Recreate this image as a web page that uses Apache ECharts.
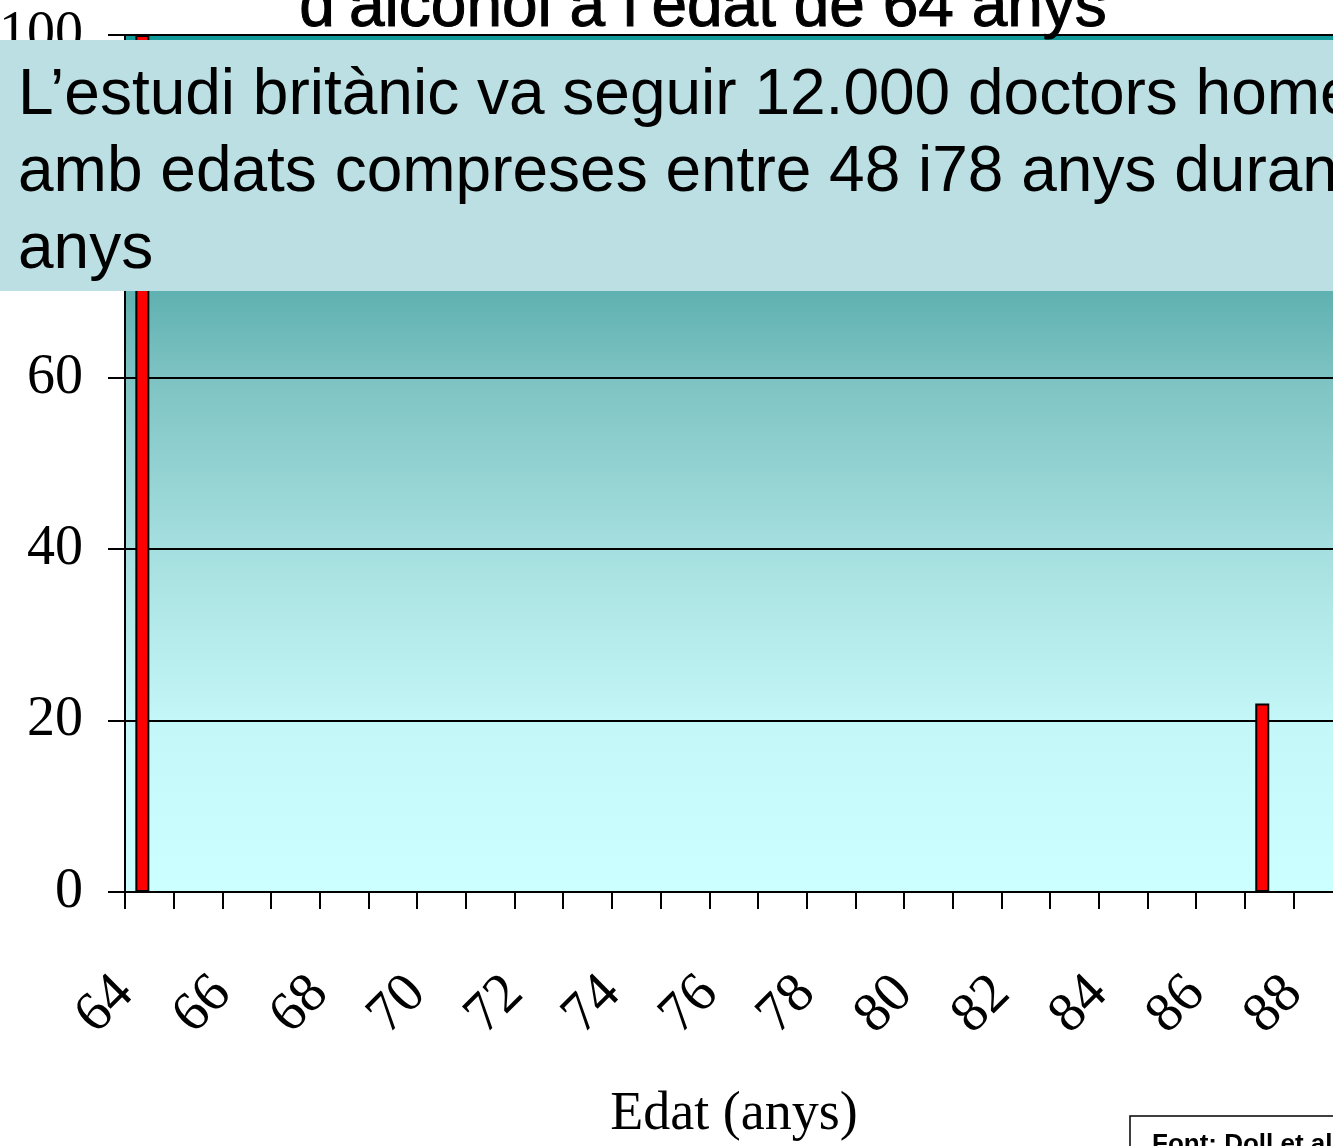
<!DOCTYPE html>
<html>
<head>
<meta charset="utf-8">
<script src="https://cdn.jsdelivr.net/npm/echarts@6/dist/echarts.min.js"></script>
<style>
  html, body { margin: 0; padding: 0; background: #fff; overflow: hidden; }
  #main { width: 1500px; height: 1146px; }
</style>
</head>
<body>
<div id="main"></div>
<script>
// edats (categories de l'eix x)
var ages = ["64","65","66","67","68","69","70","71","72","73","74","75","76",
            "77","78","79","80","81","82","83","84","85","86","87","88","89"];
// percentatge (barres vermelles)
var groupA = [100,"-","-","-","-","-","-","-","-","-","-","-","-",
              "-","-","-","-","-","-","-","-","-","-",22,"-","-"];
// segon grup del cluster (no visible)
var groupB = ["-","-","-","-","-","-","-","-","-","-","-","-","-",
              "-","-","-","-","-","-","-","-","-","-","-","-","-"];
var yTicks = { min: 0, max: 100, interval: 20 };

var titleText = "d\u2019alcohol a l\u2019edat de 64 anys";
var boxLines = [
  "L\u2019estudi brit\u00e0nic va seguir 12.000 doctors homes",
  "amb edats compreses entre 48 i78 anys durant 13",
  "anys"
];
var sourceText = "Font: Doll et al.";

var myChart = echarts.init(document.getElementById("main"));

var serif = "'Liberation Serif', 'Times New Roman', serif";
var sans = "'Liberation Sans', Arial, sans-serif";

var option = {
  animation: false,
  backgroundColor: "#fff",
  grid: {
    left: 125,
    top: 35,
    right: 109,
    bottom: 254,
    outerBoundsMode: "none",
    containLabel: false,
    show: true,
    borderColor: "#000",
    borderWidth: 2,
    backgroundColor: {
      type: "linear", x: 0, y: 0, x2: 0, y2: 1,
      colorStops: [
        { offset: 0, color: "#0f9a9a" },
        { offset: 0.3, color: "#60b1b1" },
        { offset: 0.4, color: "#7ec3c3" },
        { offset: 0.6, color: "#a6dfdf" },
        { offset: 0.8, color: "#c4f7f7" },
        { offset: 1, color: "#ccffff" }
      ]
    }
  },
  xAxis: [
    {
      type: "category",
      data: ages,
      boundaryGap: true,
      position: "bottom",
      axisLine: { lineStyle: { color: "#000", width: 2 } },
      axisTick: { show: true, inside: false, length: 17, lineStyle: { color: "#000", width: 2 } },
      axisLabel: { show: false },
      splitLine: { show: false }
    },
    {
      // només per a les etiquetes rotades a les marques
      type: "value",
      min: 64,
      max: 90,
      interval: 2,
      position: "bottom",
      axisLine: { show: false },
      axisTick: { show: false },
      splitLine: { show: false },
      axisLabel: {
        rotate: 45,
        margin: 93,
        fontFamily: serif,
        fontSize: 56,
        color: "#000"
      },
      name: "Edat (anys)",
      nameLocation: "middle",
      nameGap: 196,
      nameTextStyle: { fontFamily: serif, fontSize: 54, color: "#000", padding: [0, 48, 0, 0] }
    }
  ],
  yAxis: {
    type: "value",
    min: yTicks.min,
    max: yTicks.max,
    interval: yTicks.interval,
    axisLine: { show: true, lineStyle: { color: "#000", width: 2 } },
    axisTick: { show: true, inside: false, length: 17, lineStyle: { color: "#000", width: 2 } },
    axisLabel: { margin: 42, fontFamily: serif, fontSize: 56, color: "#000" },
    splitLine: { show: true, lineStyle: { color: "#000", width: 2 } }
  },
  series: [
    {
      name: "Grup A",
      type: "bar",
      xAxisIndex: 0,
      data: groupA,
      barWidth: 14,
      barGap: "0%",
      itemStyle: { color: "#ff0000", borderColor: "#000", borderWidth: 2 }
    },
    {
      name: "Grup B",
      type: "bar",
      xAxisIndex: 0,
      data: groupB,
      barWidth: 14,
      barGap: "0%",
      itemStyle: { color: "#0000ff", borderColor: "#000", borderWidth: 2 }
    }
  ],
  graphic: [
    // títol (tallat a dalt)
    {
      type: "text",
      z: 100,
      x: 703,
      y: 8,
      style: {
        text: titleText,
        font: "64px " + sans,
        fill: "#000",
        stroke: "#000",
        lineWidth: 1,
        align: "center",
        verticalAlign: "middle"
      }
    },
    // quadre de text
    {
      type: "rect",
      z: 100,
      shape: { x: 0, y: 40, width: 1500, height: 251 },
      style: { fill: "#bbdfe3" }
    },
    {
      type: "text",
      z: 101,
      x: 18,
      y: 58,
      style: {
        text: boxLines.join("\n"),
        font: "64px " + sans,
        lineHeight: 77,
        fill: "#000",
        align: "left",
        verticalAlign: "top"
      }
    },
    // font de les dades
    {
      type: "rect",
      z: 100,
      shape: { x: 1130, y: 1116, width: 320, height: 60 },
      style: { fill: "#fff", stroke: "#000", lineWidth: 1.5 }
    },
    {
      type: "text",
      z: 101,
      x: 1152,
      y: 1132,
      style: {
        text: sourceText,
        font: "bold 26px " + sans,
        fill: "#000",
        align: "left",
        verticalAlign: "top"
      }
    }
  ]
};

myChart.setOption(option);
</script>
</body>
</html>
